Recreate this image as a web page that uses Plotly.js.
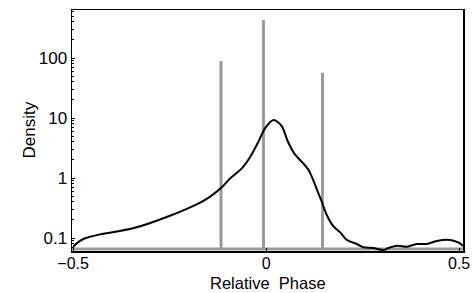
<!DOCTYPE html>
<html>
<head>
<meta charset="utf-8">
<script src="https://cdn.plot.ly/plotly-3.0.1.min.js"></script>
<style>
html,body{margin:0;padding:0;background:#fff;}
#chart{width:473px;height:293px;}
</style>
</head>
<body>
<div id="chart"></div>
<script>
// Density curve (black)
var densityX = [-0.500, -0.486, -0.469, -0.430, -0.345, -0.256, -0.171, -0.145, -0.115, -0.093, -0.063, -0.041, -0.020, -0.003, 0.019, 0.040, 0.056, 0.073, 0.092, 0.110, 0.127, 0.144, 0.157, 0.174, 0.192, 0.209, 0.235, 0.252, 0.278, 0.304, 0.317, 0.339, 0.365, 0.390, 0.416, 0.442, 0.477, 0.499, 0.511];
var densityY = [0.0716, 0.086, 0.099, 0.115, 0.145, 0.226, 0.39, 0.49, 0.70, 0.99, 1.45, 2.26, 4.03, 6.73, 9.26, 7.4, 4.1, 2.55, 1.87, 1.36, 0.764, 0.403, 0.242, 0.158, 0.124, 0.093, 0.0794, 0.070, 0.0681, 0.0631, 0.0681, 0.0743, 0.0716, 0.0794, 0.0794, 0.0891, 0.0926, 0.0835, 0.0735];

// Spikes (gray)
var spikeX = [-0.117, -0.007, 0.146];
var spikeY = [89, 430, 57];
var spikeBase = 0.0656;
var spikeRange = [-0.503, 0.510];

// Tick labels and titles
var yTickVals = [0.1, 1, 10, 100];
var yTickText = ["0.1", "1", "10", "100"];
var xTickVals = [-0.5, 0, 0.5];
var xTickText = ["\u22120.5", "0", "0.5"];
var xTitle = 'Relative\u00A0 Phase';
var yTitle = 'Density';

// Build spike polyline
var gx = [spikeRange[0]], gy = [spikeBase];
for (var i = 0; i < spikeX.length; i++) {
  gx.push(spikeX[i], spikeX[i], spikeX[i]);
  gy.push(spikeBase, spikeY[i], spikeBase);
}
gx.push(spikeRange[1]); gy.push(spikeBase);

var traces = [
  {x: gx, y: gy, type: 'scatter', mode: 'lines',
   line: {color: '#9a9a9a', width: 3}, hoverinfo: 'skip'},
  {x: densityX, y: densityY, type: 'scatter', mode: 'lines',
   line: {color: '#000000', width: 2, shape: 'spline', smoothing: 0.8}, hoverinfo: 'skip'}
];

var fontFam = '"Liberation Sans", Arial, Helvetica, sans-serif';
var layout = {
  width: 473, height: 293,
  margin: {l: 72, r: 10, t: 10, b: 42},
  paper_bgcolor: '#ffffff', plot_bgcolor: '#ffffff',
  showlegend: false,
  font: {family: fontFam, color: '#000', size: 17},
  xaxis: {
    range: [-0.503, 0.510],
    tickvals: xTickVals, ticktext: xTickText,
    ticks: 'inside', ticklen: 3, tickcolor: '#000',
    ticklabelstandoff: -3,
    showline: true, linecolor: '#000', linewidth: 1.5, mirror: true,
    showgrid: false, zeroline: false,
    tickfont: {family: fontFam, size: 16, color: '#000'}
  },
  yaxis: {
    type: 'log',
    range: [-1.2167, 2.8],
    tickvals: yTickVals, ticktext: yTickText,
    ticks: 'inside', ticklen: 3, tickcolor: '#000',
    minor: {ticks: 'inside', ticklen: 2, tickcolor: '#000', dtick: 'D1', showgrid: false},
    showline: true, linecolor: '#000', linewidth: 1.5, mirror: true,
    showgrid: false, zeroline: false,
    tickfont: {family: fontFam, size: 17, color: '#000'}
  },
  annotations: [
    {text: xTitle, xref: 'paper', yref: 'paper', x: 0.5, y: 0, xanchor: 'center', yanchor: 'bottom',
     yshift: -41.5, borderpad: 0, showarrow: false, font: {family: fontFam, size: 16.5, color: '#000'}},
    {text: yTitle, xref: 'paper', yref: 'paper', x: 0, y: 0.5, xanchor: 'center', yanchor: 'middle',
     xshift: -43, textangle: -90, showarrow: false, font: {family: fontFam, size: 17, color: '#000'}}
  ]
};

Plotly.newPlot('chart', traces, layout, {staticPlot: true, displayModeBar: false});
</script>
</body>
</html>
